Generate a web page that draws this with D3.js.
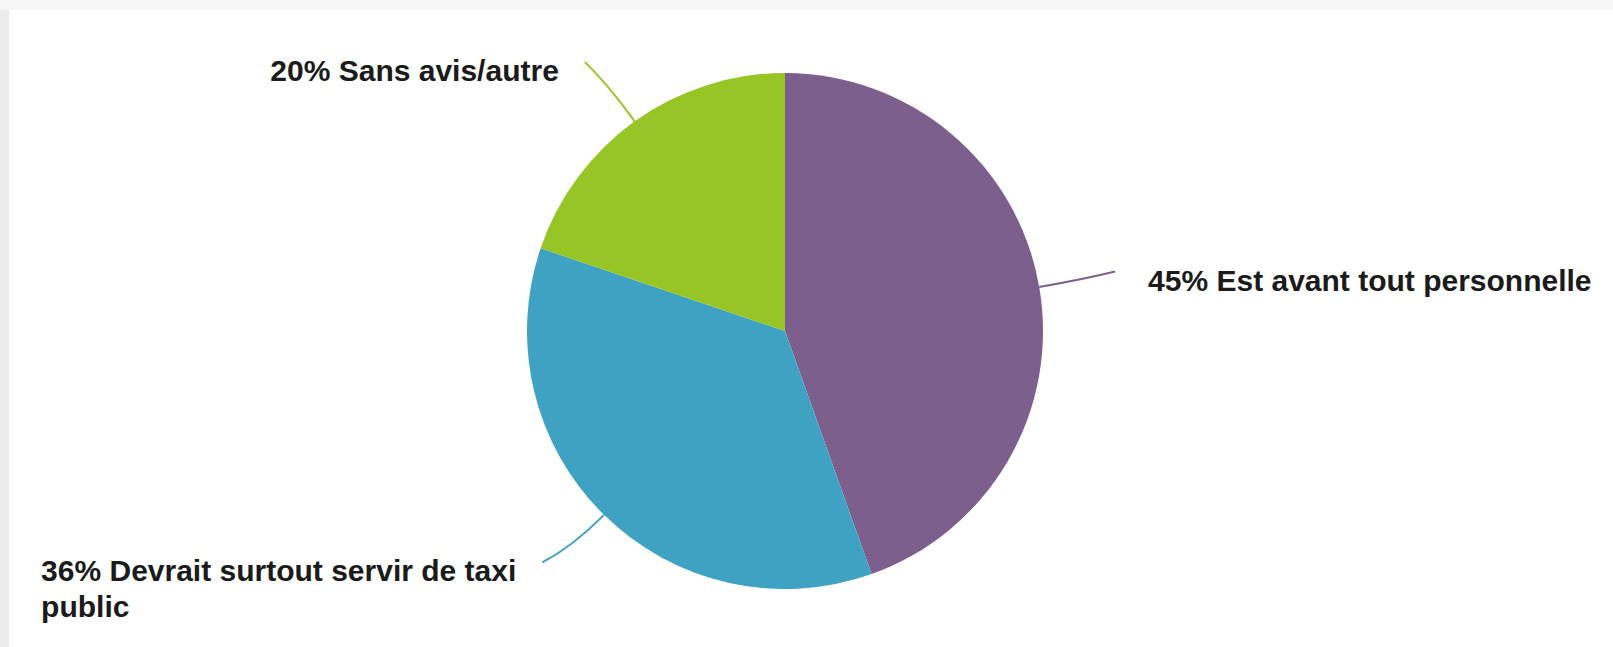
<!DOCTYPE html>
<html>
<head>
<meta charset="utf-8">
<script src="https://cdn.jsdelivr.net/npm/d3@7"></script>
<style>
  body { margin: 0; background: #fff; overflow: hidden; }
</style>
</head>
<body>
<svg id="main-vis"></svg>
<script>
// data
const categories = ["Est avant tout personnelle", "Devrait surtout servir de taxi public", "Sans avis/autre"];
const shares = [45, 36, 20];
const sliceColors = ["#7c5f8c", "#40a2c2", "#97c526"];
// how far (degrees) each leader's outer end swings off the slice's mid angle
const leaderBend = [-0.4, 1.8, -1.0];

const width = 1613, height = 647;
const center = { x: 785, y: 331 };
const radius = 258;

const svg = d3.select("#main-vis")
    .attr("width", width)
    .attr("height", height);

// light grey page edges behind the white card
svg.append("rect").attr("width", width).attr("height", height).attr("fill", "#f6f6f6");
svg.append("rect").attr("x", 0).attr("y", 10).attr("width", 9).attr("height", height - 10).attr("fill", "#ebebeb");
svg.append("rect").attr("x", 9).attr("y", 10).attr("width", width - 9).attr("height", height - 10).attr("fill", "#fff");

const slices = categories.map((c, i) => ({ label: c, value: shares[i], color: sliceColors[i], bend: leaderBend[i] }));

const pie = d3.pie().sort(null).value(d => d.value);
const arcs = pie(slices);

const arc = d3.arc().innerRadius(0).outerRadius(radius);

const g = svg.append("g").attr("transform", `translate(${center.x},${center.y})`);

g.selectAll(".slice")
    .data(arcs)
    .enter()
    .append("path")
    .attr("class", "slice")
    .attr("d", arc)
    .attr("fill", d => d.data.color);

const midAngle = d => (d.startAngle + d.endAngle) / 2;
const polar = (a, r) => [Math.sin(a) * r, -Math.cos(a) * r];
const leaderEnd = d => polar(midAngle(d) + d.data.bend * Math.PI / 180, radius * 1.3);

// slightly curved leader lines from the rim outwards
g.selectAll(".leader")
    .data(arcs)
    .enter()
    .append("path")
    .attr("class", "leader")
    .attr("d", d => {
        const p0 = polar(midAngle(d), radius);
        const c = polar(midAngle(d), radius * 1.17);
        const p1 = leaderEnd(d);
        const path = d3.path();
        path.moveTo(p0[0], p0[1]);
        path.quadraticCurveTo(c[0], c[1], p1[0], p1[1]);
        return path.toString();
    })
    .attr("fill", "none")
    .attr("stroke", d => d.data.color)
    .attr("stroke-width", 2);

const maxLabelWidth = 500;
const lineHeight = 36;

arcs.forEach(d => {
    const a = midAngle(d);
    const [ex, ey] = leaderEnd(d);
    const onLeft = a > Math.PI;

    const label = g.append("text")
        .attr("font-family", "'Liberation Sans', Arial, Helvetica, sans-serif")
        .attr("font-size", "30px")
        .attr("font-weight", "bold")
        .attr("fill", "#1b1b1b");

    // simple word wrap
    const words = `${d.data.value}% ${d.data.label}`.split(" ");
    const lines = [];
    let current = [];
    const probe = label.append("tspan");
    words.forEach(w => {
        probe.text(current.concat(w).join(" "));
        if (probe.node().getComputedTextLength() > maxLabelWidth && current.length) {
            lines.push(current.join(" "));
            current = [w];
        } else {
            current.push(w);
        }
    });
    lines.push(current.join(" "));
    probe.remove();

    const tspans = lines.map((t, i) => label.append("tspan")
        .attr("y", ey + 19 + i * lineHeight)
        .text(t));
    const blockWidth = d3.max(tspans, t => t.node().getComputedTextLength());
    const left = onLeft ? ex - 26 - blockWidth : ex + 33;
    tspans.forEach(t => t.attr("x", left));
});
</script>
</body>
</html>
